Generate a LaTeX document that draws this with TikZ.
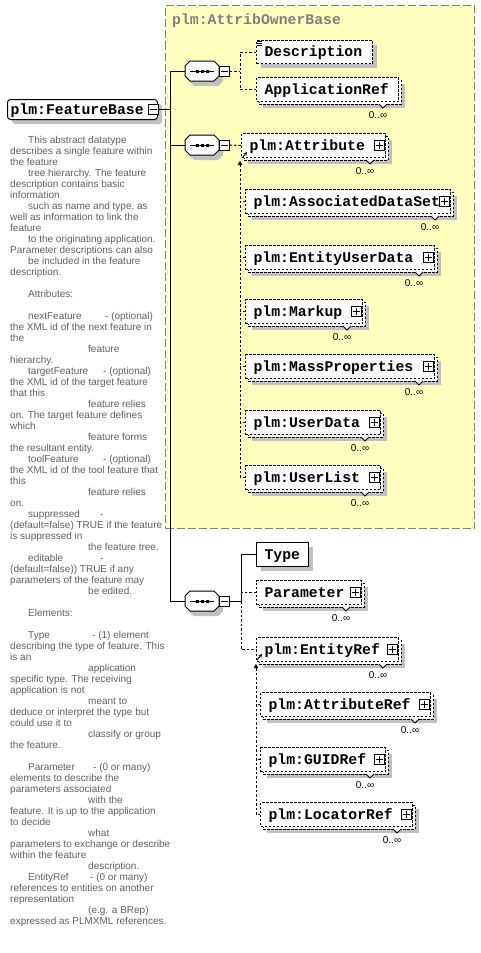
\documentclass[tikz,border=0pt]{standalone}
\usepackage{fontspec}
\setmainfont{Liberation Sans}
\setmonofont{Liberation Mono}
\usetikzlibrary{arrows.meta}
\definecolor{shadowgray}{RGB}{192,192,192}
\definecolor{grpyellow}{RGB}{255,255,192}
\definecolor{grpborder}{RGB}{128,128,128}
\definecolor{doctext}{RGB}{96,96,96}
\newcommand{\elfont}{\fontsize{14.8}{16}\selectfont\ttfamily\bfseries}
\newcommand{\pin}{\hspace*{18pt}}
\newcommand{\din}{\hspace*{78pt}}
\newcommand{\tb}[2]{\makebox[#1][l]{#2}}
\tikzset{
 elbox/.style={draw, fill=white, anchor=north west, inner xsep=8pt, inner ysep=0pt, font=\elfont, text height=11.5pt, text depth=1.7pt, align=left, line width=1pt},
 opt/.style={dash pattern=on 2.5pt off 1.5pt},
 pm/.style={draw, fill=white, minimum size=10pt, inner sep=0pt, line width=1pt},
 dl/.style={dash pattern=on 2.5pt off 2pt, line width=1pt},
 sl/.style={line width=1pt},
 mult/.style={font=\fontsize{10}{11}\selectfont, inner sep=0pt},
 seqn/.style={minimum width=34pt, minimum height=20pt, inner sep=0pt},
 grp/.style={draw=grpborder, fill=grpyellow, dash pattern=on 8pt off 3pt, line width=1pt, anchor=north west, minimum width=309pt, minimum height=523pt, inner sep=0pt},
 fbbox/.style={draw, fill=white, rounded corners=3pt, anchor=north west, minimum width=150pt, minimum height=20pt, text width=144pt, inner xsep=3pt, inner ysep=0pt, font=\elfont, text height=11.5pt, text depth=1.7pt, align=left, line width=1pt},
 refarrow/.style={-{Stealth[length=3.5pt,width=3.5pt]}, line width=0.9pt},
 uparrow/.style={dl, -{Triangle[length=4pt,width=4.5pt]}},
}
\newcommand{\Plus}[3]{%
 \node[pm] (#1) at (#2,#3) {};
 \draw[sl] ([xshift=2pt]#1.west) -- ([xshift=-2pt]#1.east);
 \draw[sl] ([yshift=-2pt]#1.north) -- ([yshift=2pt]#1.south);}
\newcommand{\ElemS}[7]{%
 \fill[shadowgray] (#2+5,#3+5) rectangle ++(#4,#5);
 \pgfmathsetmacro{\tw}{#4-16}%
 \node[elbox,#7,minimum width=#4pt,minimum height=#5pt,text width=\tw pt] (#1) at (#2,#3) {#6};}
\newcommand{\ElemM}[6]{%
 \fill[shadowgray] (#2+7,#3+7) rectangle ++(#4,#5);
 \draw[opt,fill=white,line width=1pt] (#2+3,#3+3) rectangle ++(#4,#5);
 \pgfmathsetmacro{\tw}{#4-16}%
 \node[elbox,opt,minimum width=#4pt,minimum height=#5pt,text width=\tw pt] (#1) at (#2,#3) {#6};
 \draw[fill=white, line width=0.8pt] (#2+#4-19,#3+#5+3) -- ++(4,4) -- ++(4,-4);
 \node[mult] (#1n) at (#2+#4-20,#3+#5+14) {0..∞};}
\newcommand{\ElemMP}[6]{\ElemM{#1}{#2}{#3}{#4}{#5}{#6}\Plus{#1p}{#2+#4-6}{#3+#5/2}}
\newcommand{\Seq}[3]{%
 \begin{scope}[shift={(#2+4,#3+5)}]
  \fill[shadowgray] (-17,-5)--(-12,-10)--(12,-10)--(17,-5)--(17,5)--(12,10)--(-12,10)--(-17,5)--cycle;
 \end{scope}
 \node[seqn] (#1) at (#2,#3) {};
 \begin{scope}[shift={(#2,#3)}]
  \draw[sl,fill=white] (-17,-5)--(-12,-10)--(12,-10)--(17,-5)--(17,5)--(12,10)--(-12,10)--(-17,5)--cycle;
  \draw[sl] (-12,0)--(12,0);
  \fill (-6.5,-1.5) rectangle ++(3,3);
  \fill (-1.5,-1.5) rectangle ++(3,3);
  \fill (3.5,-1.5) rectangle ++(3,3);
 \end{scope}
 \node[pm] (#1m) at (#2+22,#3) {};
 \draw[sl] ([xshift=2pt]#1m.west) -- ([xshift=-2pt]#1m.east);}
\begin{document}
\begin{tikzpicture}[x=1pt,y=-1pt]
\useasboundingbox (0,0) rectangle (480,953);
\fill[white] (0,0) rectangle (480,953);

% group box
\node[grp] (grp) at (165,5) {};
\node[anchor=west, font=\elfont, text=grpborder, inner sep=0pt] (grpt) at (172,21) {plm:AttribOwnerBase};

% FeatureBase
\fill[shadowgray, rounded corners=3pt] (12,104) rectangle ++(150,20);
\node[fbbox] (fb) at (7,99) {plm:FeatureBase};
\node[pm] (fbm) at (153,109) {};
\draw[sl] ([xshift=2pt]fbm.west) -- ([xshift=-2pt]fbm.east);

% documentation text
\node[anchor=north west, inner sep=0pt, align=left, text=doctext, font=\fontsize{10}{11}\selectfont] (doc) at (10,136) {%
\pin This abstract datatype\\
describes a single feature within\\
the feature\\
\pin tree hierarchy. The feature\\
description contains basic\\
information\\
\pin such as name and type, as\\
well as information to link the\\
feature\\
\pin to the originating application.\\
Parameter descriptions can also\\
\pin be included in the feature\\
description.\\
\mbox{}\\
\pin Attributes:\\
\mbox{}\\
\pin\tb{77pt}{nextFeature}- (optional)\\
the XML id of the next feature in\\
the\\
\din feature\\
hierarchy.\\
\pin\tb{75pt}{targetFeature}- (optional)\\
the XML id of the target feature\\
that this\\
\din feature relies\\
on. The target feature defines\\
which\\
\din feature forms\\
the resultant entity.\\
\pin\tb{75pt}{toolFeature}- (optional)\\
the XML id of the tool feature that\\
this\\
\din feature relies\\
on.\\
\pin\tb{72pt}{suppressed}-\\
(default=false) TRUE if the feature\\
is suppressed in\\
\din the feature tree.\\
\pin\tb{72pt}{editable}-\\
(default=false)) TRUE if any\\
parameters of the feature may\\
\din be edited.\\
\mbox{}\\
\pin Elements:\\
\mbox{}\\
\pin\tb{64pt}{Type}- (1) element\\
describing the type of feature. This\\
is an\\
\din application\\
specific type. The receiving\\
application is not\\
\din meant to\\
deduce or interpret the type but\\
could use it to\\
\din classify or group\\
the feature.\\
\mbox{}\\
\pin\tb{65pt}{Parameter}- (0 or many)\\
elements to describe the\\
parameters associated\\
\din with the\\
feature. It is up to the application\\
to decide\\
\din what\\
parameters to exchange or describe\\
within the feature\\
\din description.\\
\pin\tb{62pt}{EntityRef}- (0 or many)\\
references to entities on another\\
representation\\
\din (e.g. a BRep)\\
expressed as PLMXML references.};

% sequences
\Seq{s1}{202}{71}
\Seq{s2}{202}{145}
\Seq{s3}{202}{601}

% trunk
\coordinate (tr1) at (170,71);
\coordinate (tr3) at (170,601);
\draw[sl] (tr1) -- (tr3);
\draw[sl] (fbm.east) -- (fbm.east -| tr1);
\draw[sl] (tr1) -- (s1.west);
\draw[sl] (s2.west -| tr1) -- (s2.west);
\draw[sl] (tr3) -- (s3.west);

% sequence 1
\ElemS{desc}{256}{40}{116}{23}{Description}{opt}
\draw[line width=0.7pt] (257,41) -- (262,41) (257,43) -- (262,43) (257,45) -- (262,45);
\ElemM{appref}{256}{77}{142}{24}{ApplicationRef}
\coordinate (v1) at (240,71);
\draw[dl] (s1m.east) -- (v1);
\draw[dl] (desc.west) -| (v1);
\draw[dl] (appref.west) -| (v1);

% sequence 2
\ElemMP{attr}{241}{133}{144}{24}{plm:Attribute}
\ElemMP{ads}{245}{189}{205}{24}{plm:AssociatedDataSet}
\ElemMP{eud}{245}{245}{189}{24}{plm:EntityUserData}
\ElemMP{markup}{245}{299}{117}{24}{plm:Markup}
\ElemMP{mass}{245}{354}{189}{24}{plm:MassProperties}
\ElemMP{udata}{245}{410}{135}{24}{plm:UserData}
\ElemMP{ulist}{245}{465}{135}{24}{plm:UserList}
\draw[dl] (s2m.east) -- (attr.west);
\draw[refarrow] ([shift={(1pt,0pt)}]attr.south west) -- ([shift={(6pt,6pt)}]attr.south west);
\coordinate (v2t) at (240,161);
\draw[uparrow] (ulist.west -| v2t) -- (v2t);
\foreach \n in {ads,eud,markup,mass,udata,ulist} \draw[dl] (\n.west) -- (\n.west -| v2t);

% sequence 3
\ElemS{type}{256}{542}{52}{24}{Type}{}
\ElemMP{param}{256}{580}{105}{24}{Parameter}
\ElemMP{eref}{256}{637}{142}{24}{plm:EntityRef}
\ElemMP{aref}{260}{692}{170}{24}{plm:AttributeRef}
\ElemMP{guid}{260}{747}{125}{24}{plm:GUIDRef}
\ElemMP{lref}{260}{802}{152}{24}{plm:LocatorRef}
\coordinate (v3) at (241,601);
\draw[sl] (s3m.east) -- (v3);
\draw[sl] (v3) |- (type.west);
\draw[dl] (param.west) -- (param.west -| v3);
\draw[dl] (v3) |- (eref.west);
\draw[refarrow] ([shift={(1pt,2pt)}]eref.south west) -- ([shift={(6pt,8pt)}]eref.south west);
\coordinate (v4t) at (256,664);
\draw[uparrow] (lref.west -| v4t) -- (v4t);
\foreach \n in {aref,guid,lref} \draw[dl] (\n.west) -- (\n.west -| v4t);
\end{tikzpicture}
\end{document}
